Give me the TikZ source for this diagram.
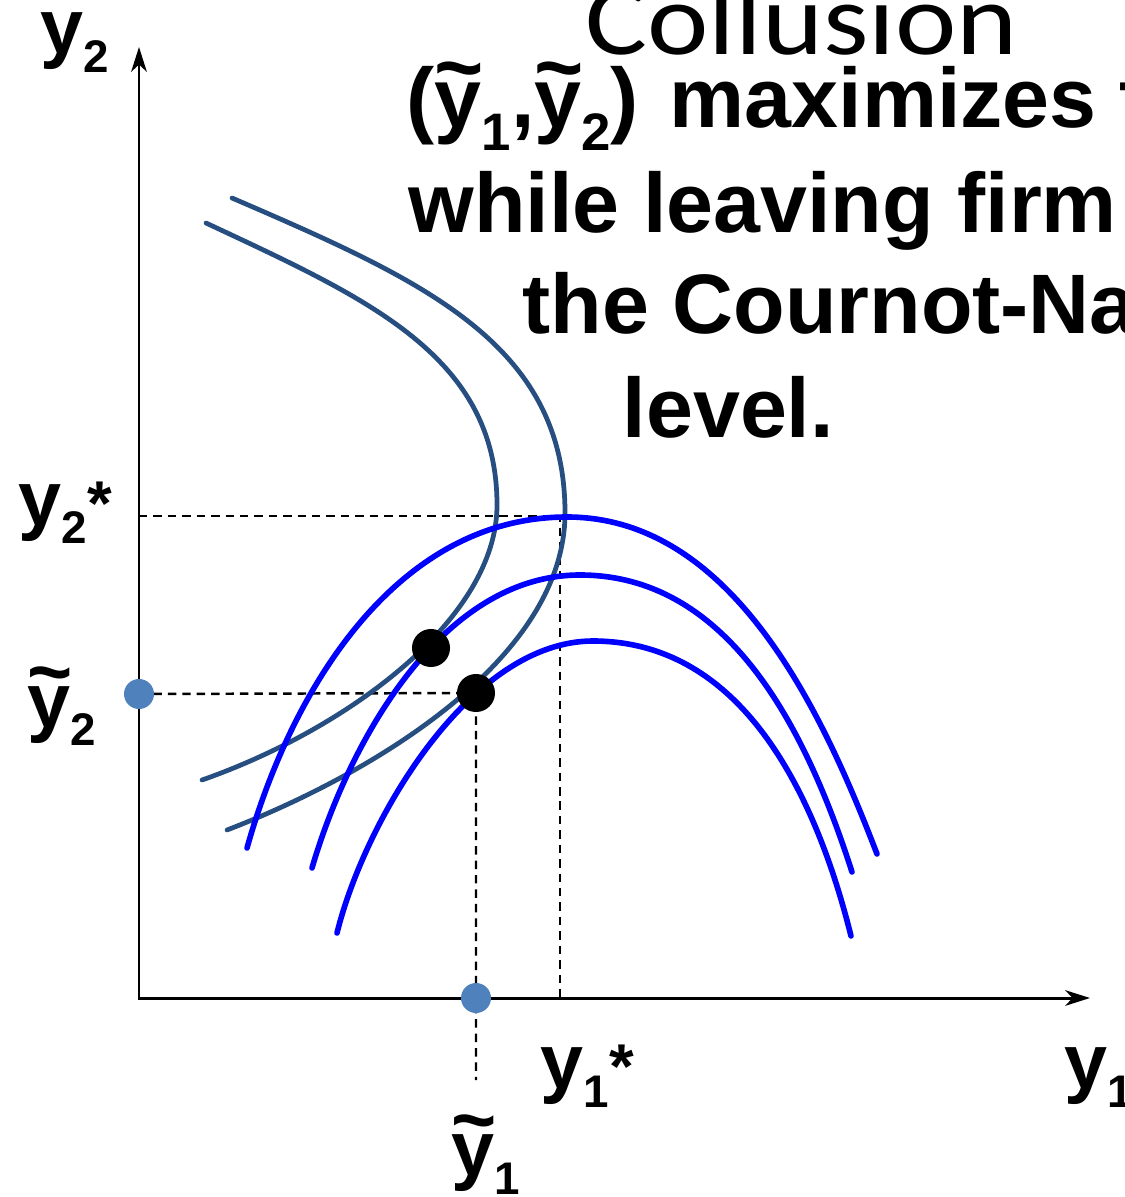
\documentclass[tikz,border=0pt]{standalone}
\usepackage{fontspec}
\setmainfont{Liberation Sans}
\newfontfamily\collfont[FakeStretch=1.14]{Carlito}
\definecolor{FirmOneColor}{RGB}{38,78,128}
\definecolor{FirmTwoColor}{RGB}{0,0,255}
\definecolor{MarkColor}{RGB}{79,129,189}
\usepackage{tikz}
\usetikzlibrary{arrows.meta, backgrounds}

\newcommand{\lsub}[1]{\raisebox{-5.4pt}{\fontsize{13pt}{13pt}\selectfont #1}}
\newcommand{\tsub}[1]{\raisebox{-6.3pt}{\fontsize{15pt}{15pt}\selectfont #1}}
\newcommand{\lstar}{{\fontsize{18pt}{18pt}\selectfont *}}
\newcommand{\ty}{\rlap{\raisebox{0.37em}{\textasciitilde}}y}

\tikzset{
  isoone/.style={draw=FirmOneColor, line width=1.35pt, line cap=round},
  isotwo/.style={draw=FirmTwoColor, line width=1.6pt, line cap=round},
  guide/.style={line width=0.7pt, dash pattern=on 2.4pt off 1.7pt},
  axis/.style={line width=0.85pt},
  keydot/.style={circle, fill=black, inner sep=0pt, minimum size=0.38cm},
  markdot/.style={circle, fill=MarkColor, inner sep=0pt, minimum size=0.30cm},
  lbl/.style={anchor=base west, inner sep=0pt, font=\fontsize{22pt}{22pt}\selectfont\bfseries},
  ttl/.style={anchor=base west, inner sep=0pt, font=\fontsize{24pt}{24pt}\selectfont\bfseries}
}

\begin{document}
\begin{tikzpicture}[x=0.01cm, y=-0.01cm]
  \useasboundingbox (0,0) rectangle (1124,1197);
  \clip (0,0) rectangle (1124,1197);

  % axes
  \coordinate (O) at (139,998);
  \coordinate (ytip) at (139,47);
  \coordinate (xtip) at (1090,998);
  \draw[axis, {Stealth[length=7pt,width=4.4pt,inset=2pt]}-{Stealth[length=7pt,width=4.4pt,inset=2pt]}] (ytip) -- (O) -- (xtip);

  % isoprofit curves, firm one
  \draw[isoone] (206,223) .. controls (366,298) and (497,355) .. (497,505)
                          .. controls (497,620) and (345,730) .. (202,780);
  \draw[isoone] (232,198) .. controls (422,280) and (565,343) .. (565,513)
                          .. controls (565,660) and (370,775) .. (227,830);
  % isoprofit curves, firm two
  \draw[isotwo] (247,848) .. controls (292,688) and (397,517) .. (567,517)
                          .. controls (737,517) and (827,724) .. (877,854);
  \draw[isotwo] (312,868) .. controls (348,745) and (440,575) .. (580,575)
                          .. controls (730,575) and (807,732) .. (852,872);
  \draw[isotwo] (337,933) .. controls (365,820) and (470,641) .. (593,641)
                          .. controls (733,641) and (811,776) .. (851,936);

  % points
  \coordinate (cn) at (560,516);
  \coordinate (y2s) at (139,516);
  \coordinate (y1s) at (560,998);
  \coordinate (y1end) at (476,1080);
  \node[keydot] (c1) at (431,648) {};
  \node[keydot] (c2) at (476,693) {};
  \node[markdot] (y2t) at (139,694) {};
  \node[markdot] (y1t) at (476,998) {};

  \begin{scope}[on background layer]
    \draw[guide] (y2s) -- (cn) -- (y1s);
    \draw[guide] (y2t.center) -- (c2.center) -- (y1end);
  \end{scope}

  % labels
  \node[lbl] (ly2) at (40,54) {y\lsub{2}};
  \node[lbl] (ly2s) at (18,525) {y\lsub{2}\lstar};
  \node[lbl] (ly2t) at (27,727) {\ty\lsub{2}};
  \node[lbl] (ly1s) at (540,1088) {y\lsub{1}\lstar};
  \node[lbl] (ly1t) at (451,1175) {\ty\lsub{1}};
  \node[lbl] (ly1) at (1064,1088) {y\lsub{1}};

  % heading
  \node[anchor=base west, inner sep=0pt, font=\collfont\fontsize{29pt}{29pt}\selectfont] (head) at (585,55) {Collusion};
  \node[ttl] (t1) at (406,128) {(\ty\tsub{1},\ty\tsub{2})};
  \node[ttl] (t1b) at (669,128) {maximizes t};
  \node[ttl] (t2) at (408,232) {while leaving firm};
  \node[ttl] (t3) at (522,333) {the Cournot-Na};
  \node[ttl] (t4) at (622,437) {level.};
\end{tikzpicture}
\end{document}
